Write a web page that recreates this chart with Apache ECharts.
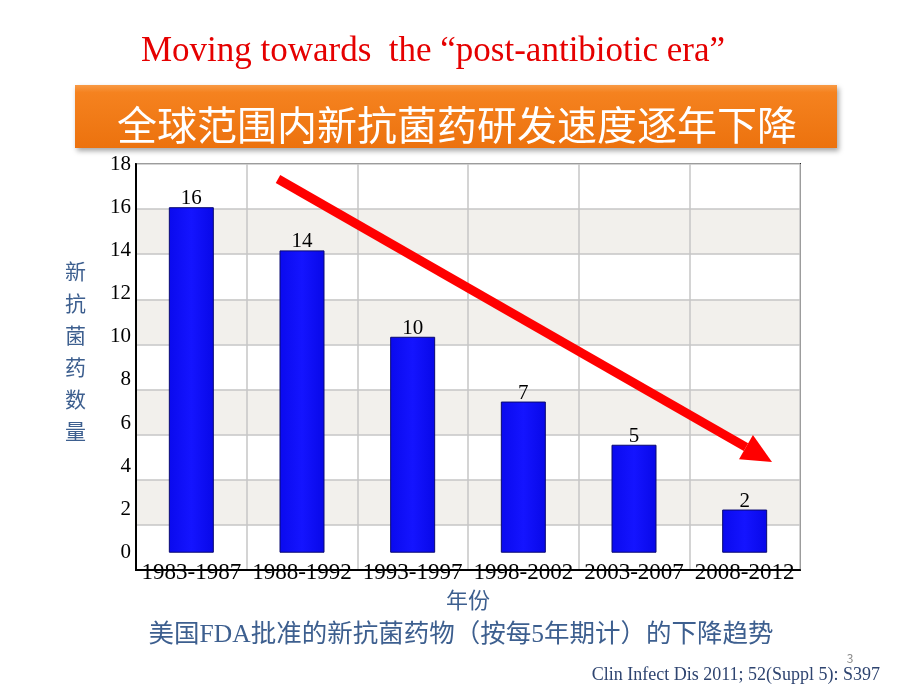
<!DOCTYPE html>
<html>
<head>
<meta charset="utf-8">
<script src="https://cdn.jsdelivr.net/npm/echarts@6/dist/echarts.min.js"></script>
<style>
html,body{margin:0;padding:0;background:#fff;}
#chart{width:920px;height:690px;}
</style>
</head>
<body>
<div id="chart"></div>
<script>
var categories = ['1983-1987', '1988-1992', '1993-1997', '1998-2002', '2003-2007', '2008-2012'];
var approvals = [16, 14, 10, 7, 5, 2];
var yTicks = [0, 2, 4, 6, 8, 10, 12, 14, 16, 18];

var serif = '"Liberation Serif", "Times New Roman", serif';
var cjk = '"Noto Sans CJK SC", sans-serif';
var mixed = '"Liberation Serif", "Noto Sans CJK SC", serif';
var slate = '#3d5f8f';

var chart = echarts.init(document.getElementById('chart'), null, {renderer: 'canvas'});

var tip = [772, 462], start = [278, 179];
var dx = tip[0] - start[0], dy = tip[1] - start[1];
var len = Math.sqrt(dx * dx + dy * dy);
var ux = dx / len, uy = dy / len, nx = -uy, ny = ux;
var headLen = 30, headHalf = 14;
var base = [tip[0] - headLen * ux, tip[1] - headLen * uy];

chart.setOption({
  animation: false,
  backgroundColor: '#ffffff',
  title: [
    {
      text: 'Moving towards  the \u201cpost-antibiotic era\u201d',
      left: 428, top: 29, textAlign: 'center',
      textStyle: {color: '#e50000', fontFamily: serif, fontSize: 35, fontWeight: 'normal'}
    },
    {
      text: '美国FDA批准的新抗菌药物（按每5年期计）的下降趋势',
      left: 456, top: 618, textAlign: 'center',
      textStyle: {color: slate, fontFamily: mixed, fontSize: 25.5, fontWeight: 'normal'}
    },
    {
      text: 'Clin Infect Dis 2011; 52(Suppl 5): S397',
      left: 875, top: 661, textAlign: 'right',
      textStyle: {color: '#2e4470', fontFamily: serif, fontSize: 18, fontWeight: 'normal'}
    },
    {
      text: '3',
      left: 845, top: 647, textAlign: 'center',
      textStyle: {color: '#8a8a8a', fontFamily: cjk, fontSize: 12, fontWeight: 'normal'}
    }
  ],
  grid: {
    left: 136, right: 120, top: 164, bottom: 120,
    show: true, borderColor: '#222', borderWidth: 2, backgroundColor: 'transparent'
  },
  xAxis: {
    type: 'category',
    data: categories,
    boundaryGap: true,
    axisLine: {show: true, lineStyle: {color: '#000', width: 2}},
    axisTick: {show: false},
    axisLabel: {color: '#000', fontFamily: serif, fontSize: 23, margin: -9, interval: 0},
    splitLine: {show: true, interval: 0, lineStyle: {color: '#c6c6c6', width: 1.5}},
    name: '年份',
    nameLocation: 'middle',
    nameGap: 18,
    nameTextStyle: {color: slate, fontFamily: cjk, fontSize: 22}
  },
  yAxis: [
    {
      type: 'value', min: 0, max: 18, interval: 2, position: 'left',
      axisLine: {show: false}, axisTick: {show: false}, axisLabel: {show: false},
      splitLine: {show: true, lineStyle: {color: '#c6c6c6', width: 1.5}},
      splitArea: {show: true, areaStyle: {color: ['#ffffff', '#f2f0ec']}}
    },
    {
      type: 'value', min: -0.8, max: 18, position: 'left',
      axisLine: {show: true, onZero: false, lineStyle: {color: '#000', width: 2}},
      axisTick: {show: false},
      splitLine: {show: false},
      axisLabel: {customValues: yTicks, color: '#000', fontFamily: serif, fontSize: 21, margin: 5},
      name: '新\n抗\n菌\n药\n数\n量\n ',
      nameLocation: 'middle',
      nameRotate: 0,
      nameGap: 50,
      nameTextStyle: {color: slate, fontFamily: cjk, fontSize: 21, lineHeight: 32}
    }
  ],
  series: [{
    type: 'bar',
    yAxisIndex: 1,
    data: approvals,
    barWidth: 45,
    itemStyle: {
      color: new echarts.graphic.LinearGradient(0, 0, 1, 0, [
        {offset: 0, color: '#0a0aee'},
        {offset: 0.5, color: '#1414ff'},
        {offset: 1, color: '#0808e8'}
      ]),
      borderColor: '#0a0a70', borderWidth: 1
    },
    label: {show: true, position: 'top', distance: -2, color: '#000', fontFamily: serif, fontSize: 21}
  }],
  graphic: [
    {
      type: 'rect',
      shape: {x: 75, y: 85, width: 762, height: 63},
      style: {
        fill: new echarts.graphic.LinearGradient(0, 0, 0, 1, [
          {offset: 0, color: '#f89a45'},
          {offset: 0.12, color: '#f5821f'},
          {offset: 1, color: '#ec720e'}
        ]),
        shadowBlur: 5, shadowOffsetX: 2, shadowOffsetY: 3, shadowColor: 'rgba(0,0,0,0.35)'
      },
      z: 10
    },
    {
      type: 'text',
      x: 457, y: 125,
      style: {
        text: '全球范围内新抗菌药研发速度逐年下降',
        fill: '#ffffff', font: '40px "Noto Sans CJK SC", sans-serif',
        textAlign: 'center', textVerticalAlign: 'middle'
      },
      z: 11
    },
    {
      type: 'line',
      shape: {x1: start[0], y1: start[1], x2: base[0], y2: base[1]},
      style: {stroke: '#ff0000', lineWidth: 9},
      z: 20
    },
    {
      type: 'polygon',
      shape: {points: [
        tip,
        [base[0] + headHalf * nx, base[1] + headHalf * ny],
        [base[0] - headHalf * nx, base[1] - headHalf * ny]
      ]},
      style: {fill: '#ff0000'},
      z: 20
    }
  ]
});
</script>
</body>
</html>
